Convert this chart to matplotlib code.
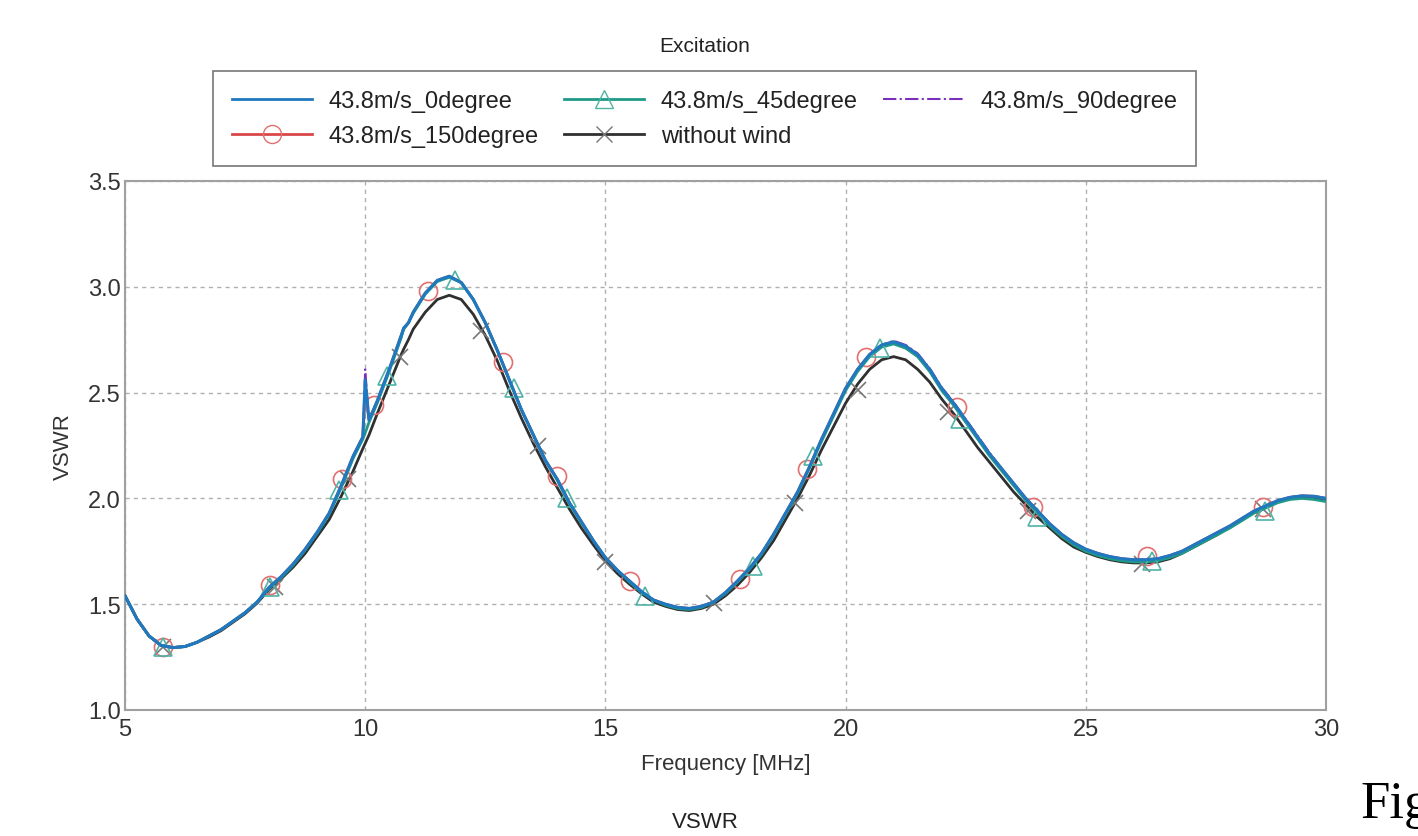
import matplotlib
matplotlib.use('Agg')
import matplotlib.pyplot as plt
from matplotlib.lines import Line2D

plt.rcParams['font.family'] = ['Liberation Sans', 'DejaVu Sans']

# frequency grid [MHz] shared by all curves
freq = [5.0, 5.25, 5.5, 5.75, 6.0, 6.25, 6.5, 6.75, 7.0, 7.25, 7.5, 7.75,
        8.0, 8.25, 8.5, 8.75, 9.0, 9.25, 9.5, 9.75, 9.95, 10.0, 10.08,
        10.25, 10.5, 10.75, 10.8, 10.9, 11.0, 11.25, 11.5, 11.75, 12.0,
        12.25, 12.5, 12.75, 13.0, 13.25, 13.5, 13.75, 14.0, 14.25, 14.5,
        14.75, 15.0, 15.25, 15.5, 15.75, 16.0, 16.25, 16.5, 16.75, 17.0,
        17.25, 17.5, 17.75, 18.0, 18.25, 18.5, 18.75, 19.0, 19.25, 19.5,
        19.75, 20.0, 20.25, 20.5, 20.75, 21.0, 21.25, 21.5, 21.75, 22.0,
        22.25, 22.5, 22.75, 23.0, 23.25, 23.5, 23.75, 24.0, 24.25, 24.5,
        24.75, 25.0, 25.25, 25.5, 25.75, 26.0, 26.25, 26.5, 26.75, 27.0,
        27.25, 27.5, 27.75, 28.0, 28.25, 28.5, 28.75, 29.0, 29.25, 29.5,
        29.75, 30.0]

vswr_0deg = [1.54, 1.43, 1.35, 1.305, 1.295, 1.30, 1.32, 1.35, 1.38, 1.42, 1.46, 1.51,
             1.58, 1.63, 1.69, 1.76, 1.84, 1.93, 2.06, 2.20, 2.29, 2.56, 2.37,
             2.46, 2.61, 2.77, 2.805, 2.83, 2.88, 2.97, 3.03, 3.05, 3.02,
             2.94, 2.83, 2.70, 2.56, 2.42, 2.30, 2.18, 2.09, 1.98, 1.89,
             1.80, 1.72, 1.66, 1.61, 1.56, 1.52, 1.50, 1.485, 1.48, 1.49,
             1.51, 1.555, 1.61, 1.67, 1.74, 1.83, 1.93, 2.03, 2.15, 2.28,
             2.40, 2.52, 2.61, 2.68, 2.725, 2.74, 2.72, 2.68, 2.61, 2.52,
             2.45, 2.37, 2.29, 2.21, 2.14, 2.07, 2.00, 1.94, 1.88, 1.83,
             1.79, 1.76, 1.74, 1.725, 1.715, 1.71, 1.71, 1.715, 1.73, 1.75,
             1.78, 1.81, 1.84, 1.87, 1.905, 1.94, 1.965, 1.99, 2.005, 2.012,
             2.01, 2.0]

vswr_45deg = [1.54, 1.43, 1.35, 1.305, 1.295, 1.30, 1.32, 1.35, 1.38, 1.42, 1.46, 1.51,
              1.575, 1.625, 1.685, 1.755, 1.835, 1.925, 2.05, 2.19, 2.28, 2.31, 2.36,
              2.45, 2.60, 2.76, 2.80, 2.83, 2.875, 2.965, 3.025, 3.045, 3.02,
              2.94, 2.83, 2.70, 2.56, 2.42, 2.30, 2.18, 2.085, 1.975, 1.885,
              1.80, 1.72, 1.66, 1.605, 1.555, 1.52, 1.495, 1.48, 1.475, 1.485,
              1.51, 1.55, 1.605, 1.665, 1.735, 1.825, 1.925, 2.025, 2.145, 2.27,
              2.39, 2.51, 2.60, 2.67, 2.715, 2.73, 2.71, 2.67, 2.60, 2.51,
              2.44, 2.36, 2.28, 2.20, 2.13, 2.06, 1.99, 1.93, 1.87, 1.82,
              1.78, 1.75, 1.73, 1.715, 1.705, 1.70, 1.70, 1.705, 1.72, 1.74,
              1.77, 1.80, 1.83, 1.86, 1.895, 1.93, 1.955, 1.98, 1.995, 2.0,
              1.995, 1.985]

vswr_90deg = [1.54, 1.43, 1.35, 1.305, 1.295, 1.30, 1.32, 1.35, 1.38, 1.42, 1.46, 1.51,
              1.58, 1.63, 1.69, 1.76, 1.84, 1.93, 2.06, 2.20, 2.29, 2.61, 2.37,
              2.46, 2.61, 2.77, 2.805, 2.83, 2.88, 2.97, 3.03, 3.05, 3.02,
              2.94, 2.83, 2.70, 2.56, 2.42, 2.30, 2.18, 2.09, 1.98, 1.89,
              1.80, 1.72, 1.66, 1.61, 1.56, 1.52, 1.50, 1.485, 1.48, 1.49,
              1.51, 1.555, 1.61, 1.67, 1.74, 1.83, 1.93, 2.03, 2.15, 2.28,
              2.40, 2.52, 2.61, 2.68, 2.725, 2.745, 2.725, 2.685, 2.615, 2.525,
              2.455, 2.375, 2.295, 2.215, 2.14, 2.07, 2.00, 1.94, 1.88, 1.83,
              1.79, 1.76, 1.74, 1.725, 1.715, 1.71, 1.71, 1.715, 1.73, 1.75,
              1.78, 1.81, 1.84, 1.87, 1.905, 1.94, 1.965, 1.99, 2.005, 2.012,
              2.01, 2.0]

vswr_150deg = [1.54, 1.43, 1.35, 1.305, 1.295, 1.30, 1.32, 1.35, 1.38, 1.42, 1.46, 1.51,
               1.58, 1.63, 1.69, 1.76, 1.84, 1.93, 2.06, 2.20, 2.29, 2.50, 2.37,
               2.46, 2.61, 2.77, 2.80, 2.83, 2.88, 2.97, 3.03, 3.05, 3.02,
               2.94, 2.83, 2.70, 2.56, 2.42, 2.30, 2.18, 2.09, 1.98, 1.89,
               1.80, 1.72, 1.66, 1.61, 1.56, 1.52, 1.50, 1.485, 1.48, 1.49,
               1.51, 1.555, 1.61, 1.67, 1.74, 1.83, 1.93, 2.03, 2.15, 2.28,
               2.40, 2.52, 2.61, 2.68, 2.725, 2.74, 2.72, 2.68, 2.61, 2.52,
               2.45, 2.37, 2.29, 2.21, 2.14, 2.07, 2.00, 1.94, 1.88, 1.83,
               1.79, 1.76, 1.74, 1.725, 1.715, 1.71, 1.71, 1.715, 1.73, 1.75,
               1.78, 1.81, 1.84, 1.87, 1.905, 1.94, 1.965, 1.99, 2.005, 2.012,
               2.01, 2.0]

vswr_nowind = [1.54, 1.43, 1.35, 1.305, 1.295, 1.30, 1.32, 1.345, 1.375, 1.415, 1.455, 1.505,
               1.57, 1.62, 1.675, 1.74, 1.82, 1.90, 2.01, 2.13, 2.235, 2.26, 2.30,
               2.40, 2.54, 2.68, 2.705, 2.75, 2.80, 2.88, 2.94, 2.96, 2.94,
               2.87, 2.77, 2.65, 2.51, 2.38, 2.26, 2.15, 2.05, 1.95, 1.86,
               1.78, 1.705, 1.645, 1.595, 1.55, 1.51, 1.49, 1.475, 1.47, 1.48,
               1.50, 1.54, 1.59, 1.65, 1.72, 1.80, 1.90, 2.00, 2.11, 2.23,
               2.34, 2.45, 2.54, 2.61, 2.655, 2.67, 2.655, 2.61, 2.55, 2.47,
               2.40, 2.32, 2.24, 2.17, 2.10, 2.03, 1.97, 1.91, 1.86, 1.81,
               1.77, 1.745, 1.725, 1.71, 1.70, 1.695, 1.695, 1.70, 1.715, 1.74,
               1.77, 1.80, 1.83, 1.865, 1.90, 1.935, 1.96, 1.985, 2.0, 2.005,
               2.0, 1.99]

# marker positions as drawn on the curves
mk_150_f = [5.79, 8.02, 9.52, 10.18, 11.31, 12.87, 13.99, 15.51, 17.80, 19.20,
            20.42, 22.32, 23.90, 26.27, 28.69]
mk_150_v = [1.30, 1.59, 2.09, 2.44, 2.98, 2.645, 2.105, 1.61, 1.62, 2.14,
            2.67, 2.43, 1.96, 1.73, 1.96]
mk_45_f = [5.79, 8.02, 9.45, 10.45, 11.87, 13.10, 14.20, 15.82, 18.07, 19.32,
           20.72, 22.38, 23.98, 26.38, 28.73]
mk_45_v = [1.30, 1.58, 2.04, 2.58, 3.03, 2.52, 2.00, 1.54, 1.68, 2.20,
           2.71, 2.375, 1.91, 1.705, 1.94]
mk_nw_f = [5.79, 8.12, 9.64, 10.72, 12.41, 13.60, 14.99, 17.26, 18.95, 20.26,
           22.13, 23.80, 26.17, 28.69]
mk_nw_v = [1.30, 1.58, 2.09, 2.67, 2.79, 2.25, 1.70, 1.505, 1.98, 2.51,
           2.41, 1.94, 1.69, 1.95]

c_blue = '#1f78c0'
c_teal = '#1f9a86'
c_purple = '#7b2fbf'
c_red = '#d9474a'
c_black = '#303030'

fig = plt.figure(figsize=(14.18, 8.37), dpi=100)
ax = fig.add_axes([125 / 1418, 1 - 711 / 837, (1326 - 125) / 1418, (711 - 182) / 837])

ax.plot(freq, vswr_nowind, color=c_black, lw=2, zorder=3)
ax.plot(mk_nw_f, mk_nw_v, ls='none', marker='x', ms=11, mew=1.2, color='#777777', zorder=3)
ax.plot(freq, vswr_150deg, color=c_red, lw=2, zorder=4)
ax.plot(mk_150_f, mk_150_v, ls='none', marker='o', ms=13, mfc='none', mew=1.2, mec='#e27070', zorder=4)
ax.plot(freq, vswr_90deg, color=c_purple, lw=1.5, ls='-.', zorder=5)
ax.plot(freq, vswr_45deg, color=c_teal, lw=2, zorder=6)
ax.plot(mk_45_f, mk_45_v, ls='none', marker='^', ms=13, mfc='none', mew=1.2, mec='#4fb3a5', zorder=6)
ax.plot(freq, vswr_0deg, color=c_blue, lw=2.2, zorder=7)

ax.set_xlim(5, 30)
ax.set_ylim(1.0, 3.5)
ax.set_xticks([5, 10, 15, 20, 25, 30])
ax.set_yticks([1.0, 1.5, 2.0, 2.5, 3.0, 3.5])
ax.yaxis.set_major_formatter(matplotlib.ticker.FormatStrFormatter('%.1f'))
ax.tick_params(axis='y', length=0, labelsize=17, pad=3, colors='#333333')
ax.tick_params(axis='x', length=0, labelsize=17, pad=6, colors='#333333')
ax.grid(True, ls=(0, (3, 3)), color='#b0b0b0', lw=1)
for s in ax.spines.values():
    s.set_color('#a0a0a0')
    s.set_linewidth(1.5)
ax.set_xlabel('Frequency [MHz]', fontsize=16, color='#333333', labelpad=9)
ax.set_ylabel('VSWR', fontsize=16, color='#333333', labelpad=10)

handles = [
    Line2D([], [], color=c_blue, lw=2),
    Line2D([], [], color=c_red, lw=2, marker='o', ms=13, mfc='none', mec='#e27070'),
    Line2D([], [], color=c_teal, lw=2, marker='^', ms=13, mfc='none', mec='#4fb3a5'),
    Line2D([], [], color=c_black, lw=2, marker='x', ms=11, mec='#777777'),
    Line2D([], [], color=c_purple, lw=1.5, ls='-.'),
]
labels = ['43.8m/s_0degree', '43.8m/s_150degree', '43.8m/s_45degree',
          'without wind', '43.8m/s_90degree']
leg = fig.legend(handles, labels, ncol=3, loc='upper left',
                 bbox_to_anchor=(213 / 1418, 1 - 72 / 837, (1196 - 213) / 1418, 0.0),
                 mode='expand', fontsize=17, frameon=True, fancybox=False,
                 edgecolor='#555555', handlelength=3.4, handletextpad=0.7,
                 labelspacing=0.55, borderpad=0.8, borderaxespad=0)
leg.get_frame().set_linewidth(1.2)
for t in leg.get_texts():
    t.set_color('#222222')

fig.text(705 / 1418, 1 - 47 / 837, 'Excitation', ha='center', va='center', fontsize=15, color='#222222')
fig.text(705 / 1418, 1 - 823 / 837, 'VSWR', ha='center', va='center', fontsize=16, color='#222222')
fig.text(1360 / 1418, 1 - 818 / 837, 'Fig', ha='left', va='baseline', fontsize=38,
         family=['Liberation Serif', 'DejaVu Serif'], color='black')

fig.savefig('out.png', dpi=100)
